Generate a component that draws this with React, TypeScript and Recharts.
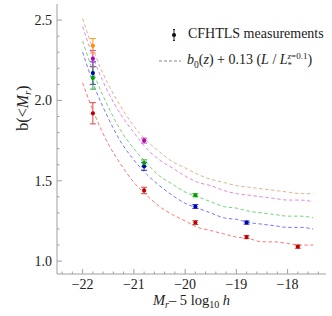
import React from 'react';
import { ComposedChart, Line, Scatter, ErrorBar, XAxis, YAxis } from 'recharts';

// dashed model curves, sampled along the magnitude axis
const curveX = [-22, -21.75, -21.5, -21.25, -21, -20.75, -20.5, -20.25, -20, -19.75, -19.5, -19.25, -19, -18.75, -18.5, -18.25, -18, -17.75, -17.5];
const redCurve = [2.11, 1.9, 1.73, 1.6, 1.49, 1.41, 1.34, 1.29, 1.25, 1.21, 1.19, 1.17, 1.15, 1.14, 1.12, 1.12, 1.11, 1.1, 1.1];
const blueCurve = [2.3, 2.07, 1.89, 1.74, 1.63, 1.54, 1.47, 1.41, 1.36, 1.33, 1.3, 1.27, 1.26, 1.24, 1.23, 1.22, 1.21, 1.21, 1.2];
const greenCurve = [2.37, 2.14, 1.96, 1.81, 1.7, 1.61, 1.53, 1.48, 1.43, 1.4, 1.37, 1.34, 1.33, 1.31, 1.3, 1.29, 1.28, 1.28, 1.27];
const purpleCurve = [2.46, 2.23, 2.05, 1.91, 1.8, 1.7, 1.63, 1.58, 1.53, 1.49, 1.47, 1.44, 1.42, 1.41, 1.4, 1.39, 1.38, 1.38, 1.37];
const tanCurve = [2.51, 2.28, 2.1, 1.96, 1.84, 1.75, 1.68, 1.62, 1.58, 1.54, 1.51, 1.49, 1.47, 1.46, 1.45, 1.44, 1.43, 1.42, 1.42];

// CFHTLS measurements
const pointX = [-21.8, -20.8, -19.8, -18.8, -17.8];
const redPts = [1.92, 1.44, 1.24, 1.15, 1.09];
const redErr = [0.066, 0.02, 0.012, 0.01, 0.01];
const bluePts = [2.17, 1.59, 1.34, 1.24];
const blueErr = [0.07, 0.025, 0.012, 0.01];
const greenPts = [2.14, 1.61, 1.41];
const greenErr = [0.07, 0.02, 0.01];
const purplePts = [2.26, 1.75];
const purpleErr = [0.05, 0.015];
const orangePts = [2.34];
const orangeErr = [0.045];

const xMajor = [-22, -21, -20, -19, -18];
const xMinor = [-22.4, -22.2, -21.8, -21.6, -21.4, -21.2, -20.8, -20.6, -20.4, -20.2, -19.8, -19.6, -19.4, -19.2, -18.8, -18.6, -18.4, -18.2, -17.8, -17.6, -17.4];
const yMajor = [1.0, 1.5, 2.0, 2.5];
const yMinor = [1.1, 1.2, 1.3, 1.4, 1.6, 1.7, 1.8, 1.9, 2.1, 2.2, 2.3, 2.4];

const FONT = "'Liberation Serif', 'Times New Roman', 'DejaVu Serif', serif";
const FRAME = '#a0a0a0';

const curveData = curveX.map((x, i) => ({
  x,
  red: redCurve[i],
  blue: blueCurve[i],
  green: greenCurve[i],
  purple: purpleCurve[i],
  tan: tanCurve[i],
}));

const pts = (ys: number[], errs: number[]) => ys.map((y, i) => ({ x: pointX[i], y, err: errs[i] }));

const fmt = (v: number) => (v < 0 ? '\u2212' + Math.abs(v) : v.toFixed(1));

const BottomTick = (p: any) => {
  const v = p.payload.value;
  const major = xMajor.includes(v);
  return (
    <g>
      <line x1={p.x} x2={p.x} y1={p.y} y2={p.y - (major ? 5 : 2.5)} stroke={FRAME} />
      {major && (
        <text x={p.x} y={p.y + 15} textAnchor="middle" fontFamily={FONT} fontSize={14} fill="#222">
          {fmt(v)}
        </text>
      )}
    </g>
  );
};

const TopTick = (p: any) => {
  const major = xMajor.includes(p.payload.value);
  return <line x1={p.x} x2={p.x} y1={p.y} y2={p.y + (major ? 5 : 2.5)} stroke={FRAME} />;
};

const LeftTick = (p: any) => {
  const v = p.payload.value;
  const major = yMajor.includes(v);
  return (
    <g>
      <line x1={p.x} x2={p.x + (major ? 5 : 2.5)} y1={p.y} y2={p.y} stroke={FRAME} />
      {major && (
        <text x={p.x - 5} y={p.y + 5} textAnchor="end" fontFamily={FONT} fontSize={14} fill="#222">
          {fmt(v)}
        </text>
      )}
    </g>
  );
};

const RightTick = (p: any) => {
  const major = yMajor.includes(p.payload.value);
  return <line x1={p.x} x2={p.x - (major ? 5 : 2.5)} y1={p.y} y2={p.y} stroke={FRAME} />;
};

const dot = (color: string) => (p: any) => <circle cx={p.cx} cy={p.cy} r={2.1} fill={color} />;

const XTitle = (p: any) => {
  const { x, y, width } = p.viewBox;
  return (
    <text x={x + width / 2} y={y + 31} textAnchor="middle" fontFamily={FONT} fontSize={14.5} fill="#222">
      <tspan fontStyle="italic">M</tspan>
      <tspan fontStyle="italic" fontSize={10} dy={3}>r</tspan>
      <tspan dy={-3}>{'\u2013 5 log'}</tspan>
      <tspan fontSize={10} dy={3}>10</tspan>
      <tspan dy={-3} fontStyle="italic">{' h'}</tspan>
    </text>
  );
};

const YTitle = (p: any) => {
  const { x, y } = p.viewBox;
  const cx = x + 28;
  const cy = y + 104;
  return (
    <text x={cx} y={cy} transform={`rotate(-90 ${cx} ${cy})`} textAnchor="middle" fontFamily={FONT} fontSize={16} fill="#222">
      <tspan>b(&lt;</tspan>
      <tspan fontStyle="italic">M</tspan>
      <tspan fontStyle="italic" fontSize={11} dy={3}>r</tspan>
      <tspan dy={-3}>)</tspan>
    </text>
  );
};

const series = [
  { key: 'tan', line: '#d9a070' },
  { key: 'purple', line: '#dc6cdc' },
  { key: 'green', line: '#55c855' },
  { key: 'blue', line: '#5555ff' },
  { key: 'red', line: '#ff5555' },
];

const scatters = [
  { name: 'red', data: pts(redPts, redErr), fill: '#c00000', bar: '#d84848' },
  { name: 'blue', data: pts(bluePts, blueErr), fill: '#0000b4', bar: '#3030c4' },
  { name: 'green', data: pts(greenPts, greenErr), fill: '#00a000', bar: '#30b030' },
  { name: 'purple', data: pts(purplePts, purpleErr), fill: '#b400b4', bar: '#c040c0' },
  { name: 'orange', data: pts(orangePts, orangeErr), fill: '#ff8c00', bar: '#ff9a20' },
];

export default function App() {
  const xDomain: [number, number] = [-22.5, -17.25];
  const yDomain: [number, number] = [0.92, 2.6];
  return (
    <div style={{ position: 'absolute', left: 0, top: 0, width: 332, height: 316, background: '#fff' }}>
      <ComposedChart width={332} height={316} data={curveData} margin={{ top: 4, right: 6, left: 0, bottom: 0 }}>
        <XAxis
          xAxisId="b"
          dataKey="x"
          type="number"
          domain={xDomain}
          allowDataOverflow
          ticks={[...xMajor, ...xMinor]}
          interval={0}
          tick={BottomTick}
          tickLine={false}
          tickSize={0}
          tickMargin={0}
          axisLine={{ stroke: FRAME }}
          height={42}
          label={{ content: XTitle }}
        />
        <XAxis
          xAxisId="t"
          orientation="top"
          dataKey="x"
          type="number"
          domain={xDomain}
          allowDataOverflow
          ticks={[...xMajor, ...xMinor]}
          interval={0}
          tick={TopTick}
          tickLine={false}
          tickSize={0}
          tickMargin={0}
          axisLine={{ stroke: FRAME }}
          height={0}
        />
        <YAxis
          yAxisId="l"
          type="number"
          domain={yDomain}
          allowDataOverflow
          ticks={[...yMajor, ...yMinor]}
          interval={0}
          tick={LeftTick}
          tickLine={false}
          tickSize={0}
          tickMargin={0}
          axisLine={{ stroke: FRAME }}
          width={57}
          label={{ content: YTitle }}
        />
        <YAxis
          yAxisId="r"
          orientation="right"
          type="number"
          domain={yDomain}
          allowDataOverflow
          ticks={[...yMajor, ...yMinor]}
          interval={0}
          tick={RightTick}
          tickLine={false}
          tickSize={0}
          tickMargin={0}
          axisLine={{ stroke: FRAME }}
          width={0}
        />
        {series.map((s) => (
          <Line
            key={s.key}
            xAxisId="b"
            yAxisId="l"
            type="monotone"
            dataKey={s.key}
            stroke={s.line}
            strokeOpacity={0.8}
            strokeWidth={1}
            strokeDasharray="3.5 2.5"
            dot={false}
            activeDot={false}
            isAnimationActive={false}
          />
        ))}
        {scatters.map((s) => (
          <Scatter
            key={s.name}
            xAxisId="b"
            yAxisId="l"
            data={s.data}
            dataKey="y"
            shape={dot(s.fill)}
            isAnimationActive={false}
          >
            <ErrorBar dataKey="err" direction="y" width={3} stroke={s.bar} strokeWidth={1} isAnimationActive={false} />
          </Scatter>
        ))}
      </ComposedChart>

      <div style={{ position: 'absolute', left: 0, top: 0, fontFamily: FONT, fontSize: 14, color: '#222', whiteSpace: 'nowrap' }}>
        <svg width={10} height={14} style={{ position: 'absolute', left: 169, top: 27.5 }}>
          <line x1={5} x2={5} y1={1.5} y2={12.5} stroke="#222" strokeWidth={1} />
          <line x1={4} x2={6} y1={1.5} y2={1.5} stroke="#222" />
          <line x1={4} x2={6} y1={12.5} y2={12.5} stroke="#222" />
          <circle cx={5} cy={7} r={2.1} fill="#111" />
        </svg>
        <div style={{ position: 'absolute', left: 188, top: 25, lineHeight: '18px' }}>CFHTLS measurements</div>
        <svg width={24} height={4} style={{ position: 'absolute', left: 158, top: 59 }}>
          <line x1={1} x2={23} y1={2} y2={2} stroke="#888" strokeWidth={1} strokeDasharray="3 2" />
        </svg>
        <div style={{ position: 'absolute', left: 187, top: 50, lineHeight: '20px' }}>
          <i>b</i>
          <sub style={{ fontSize: 9.5 }}>0</sub>(<i>z</i>) + 0.13 (<i>L</i> / <i>L</i>
          <span style={{ display: 'inline-flex', flexDirection: 'column', verticalAlign: 'middle', fontSize: 9, lineHeight: '9px' }}>
            <span>
              <i>z</i>=0.1
            </span>
            <span>*</span>
          </span>
          )
        </div>
      </div>
    </div>
  );
}
